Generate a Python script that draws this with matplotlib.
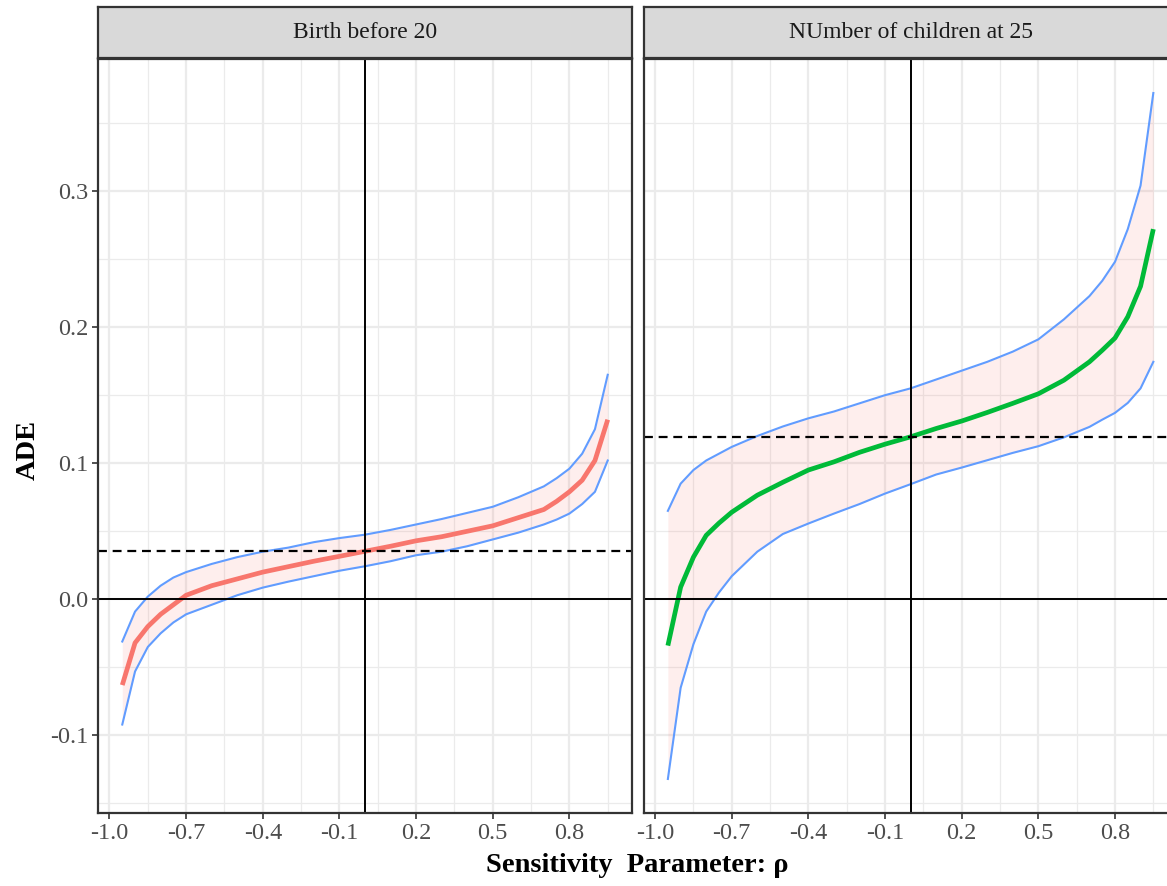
import matplotlib
matplotlib.use("Agg")
import matplotlib.pyplot as plt
import numpy as np

# ---- data ----
rho = [-0.95, -0.9, -0.85, -0.8, -0.75, -0.7, -0.6, -0.5, -0.4, -0.3, -0.2, -0.1,
       0.0, 0.1, 0.2, 0.3, 0.4, 0.5, 0.6, 0.7, 0.75, 0.8, 0.85, 0.9, 0.95]

birth_est = [-0.063, -0.032, -0.020, -0.011, -0.004, 0.003, 0.010, 0.015, 0.020, 0.024,
             0.028, 0.0316, 0.0353, 0.039, 0.043, 0.046, 0.050, 0.054, 0.060, 0.066,
             0.072, 0.079, 0.0875, 0.102, 0.132]
birth_upper = [-0.031, -0.009, 0.002, 0.010, 0.016, 0.020, 0.026, 0.031, 0.035, 0.038,
               0.042, 0.045, 0.0475, 0.051, 0.055, 0.059, 0.0635, 0.068, 0.075, 0.083,
               0.089, 0.096, 0.107, 0.125, 0.165]
birth_lower = [-0.092, -0.053, -0.035, -0.025, -0.017, -0.011, -0.004, 0.003, 0.0086, 0.013,
               0.017, 0.021, 0.0243, 0.028, 0.0324, 0.035, 0.039, 0.044, 0.049, 0.055,
               0.0586, 0.063, 0.070, 0.079, 0.102]
birth_ade = 0.0353

kids_est = [-0.034, 0.009, 0.031, 0.047, 0.056, 0.064, 0.0765, 0.086, 0.095, 0.101,
            0.108, 0.114, 0.1194, 0.1255, 0.131, 0.1373, 0.144, 0.151, 0.161, 0.1745,
            0.183, 0.192, 0.2076, 0.230, 0.272]
kids_upper = [0.065, 0.085, 0.095, 0.102, 0.107, 0.112, 0.120, 0.127, 0.133, 0.138,
              0.144, 0.150, 0.155, 0.1615, 0.168, 0.1745, 0.182, 0.191, 0.2057, 0.2228,
              0.234, 0.248, 0.272, 0.304, 0.372]
kids_lower = [-0.132, -0.065, -0.033, -0.009, 0.005, 0.017, 0.035, 0.048, 0.0557, 0.063,
              0.070, 0.0777, 0.0846, 0.0917, 0.0968, 0.1022, 0.1076, 0.1125, 0.119, 0.1267,
              0.132, 0.137, 0.1443, 0.155, 0.1745]
kids_ade = 0.1194

panel_titles = ["Birth before 20", "NUmber of children at 25"]
x_ticks = [-1.0, -0.7, -0.4, -0.1, 0.2, 0.5, 0.8]
x_ticklabels = ["-1.0", "-0.7", "-0.4", "-0.1", "0.2", "0.5", "0.8"]
y_ticks = [-0.1, 0.0, 0.1, 0.2, 0.3]
y_ticklabels = ["-0.1", "0.0", "0.1", "0.2", "0.3"]

# ---- style ----
plt.rcParams['font.family'] = ['Liberation Serif', 'DejaVu Serif']
W, H = 1167, 886
fig = plt.figure(figsize=(W / 100, H / 100), dpi=100)

def fx(px):
    return px / W

def fy(py):
    return 1 - py / H

panel_w = 534
top_px, bot_px = 59, 813
lefts = [98, 643.6]
series = [(birth_est, birth_upper, birth_lower, birth_ade, "#F8766D"),
          (kids_est, kids_upper, kids_lower, kids_ade, "#00BA38")]

ylim = (-0.157, 0.397)
xlim = (-1.045, 1.045)
border_col = "#333333"

for i, (est, up, lo, ade, col) in enumerate(series):
    ax = fig.add_axes([fx(lefts[i]), fy(bot_px), panel_w / W, (bot_px - top_px) / H])
    ax.set_xlim(*xlim)
    ax.set_ylim(*ylim)
    ax.set_facecolor("white")
    ax.set_xticks(x_ticks)
    ax.set_xticks([-0.85, -0.55, -0.25, 0.05, 0.35, 0.65, 0.95], minor=True)
    ax.set_yticks(y_ticks)
    ax.set_yticks([-0.15, -0.05, 0.05, 0.15, 0.25, 0.35], minor=True)
    ax.grid(which="major", color="#EBEBEB", lw=1.6, zorder=0)
    ax.grid(which="minor", color="#EBEBEB", lw=0.9, zorder=0)
    ax.set_axisbelow(True)

    ax.fill_between(rho, lo, up, color="#F8766D", alpha=0.12, lw=0, zorder=2)
    ax.plot(rho, up, color="#619CFF", lw=1.5, zorder=3)
    ax.plot(rho, lo, color="#619CFF", lw=1.5, zorder=3)
    ax.plot(rho, est, color=col, lw=3.4, zorder=4, solid_capstyle="butt")
    ax.axhline(0, color="black", lw=1.4, zorder=5)
    ax.axvline(0, color="black", lw=1.4, zorder=5)
    ax.axhline(ade, color="black", lw=1.6, ls=(0, (4, 2.6)), zorder=5)

    ax.set_xticklabels(x_ticklabels, fontsize=17.5, color="#4D4D4D")
    if i == 0:
        ax.set_yticklabels(y_ticklabels, fontsize=17.5, color="#4D4D4D")
    else:
        ax.tick_params(axis="y", which="both", left=False, labelleft=False)
    ax.tick_params(axis="both", which="major", length=4, width=1.2, color="#333333", pad=3)
    ax.tick_params(axis="both", which="minor", length=0)
    for s in ax.spines.values():
        s.set_color(border_col)
        s.set_linewidth(1.6)
        s.set_zorder(6)

    # strip
    sax = fig.add_axes([fx(lefts[i]), fy(58), panel_w / W, 51 / H])
    sax.set_xlim(0, 1)
    sax.set_ylim(0, 1)
    sax.set_facecolor("#D9D9D9")
    sax.set_xticks([])
    sax.set_yticks([])
    for s in sax.spines.values():
        s.set_color(border_col)
        s.set_linewidth(1.6)
    sax.text(0.5, 0.5, panel_titles[i], ha="center", va="center", fontsize=17,
             color="#1A1A1A")

fig.text(fx(637), fy(866), "Sensitivity  Parameter: ρ", ha="center", va="center",
         fontsize=20.5, fontweight="bold", color="black")
fig.text(fx(28), fy(450), "ADE", ha="center", va="center", rotation=90,
         fontsize=20.5, fontweight="bold", color="black")

fig.savefig("out.png", dpi=100)
